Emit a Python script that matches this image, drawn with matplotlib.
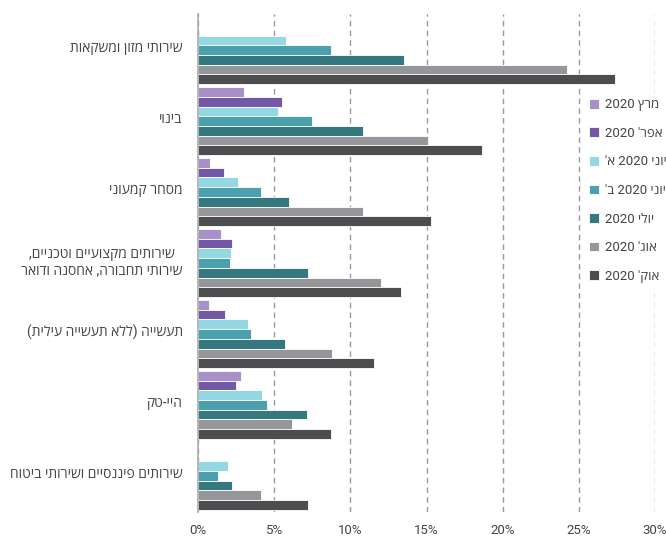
import numpy as np
import matplotlib
matplotlib.use("Agg")
import matplotlib.pyplot as plt
from matplotlib.transforms import ScaledTranslation

plt.rcParams['font.family'] = ['Roboto', 'Open Sans', 'Liberation Sans', 'DejaVu Sans']

# sectors, top to bottom
categories = [
    "שירותי מזון ומשקאות",
    "בינוי",
    "מסחר קמעוני",
    "שירותים מקצועיים וטכניים,\nשירותי תחבורה, אחסנה ודואר",
    "תעשייה (ללא תעשייה עילית)",
    "היי-טק",
    "שירותים פיננסיים ושירותי ביטוח",
]

series_names = ["מרץ 2020", "אפר' 2020", "יוני 2020 א'", "יוני 2020 ב'",
                "יולי 2020", "אוג' 2020", "אוק' 2020"]

mar_2020 = [np.nan, 3.0, 0.8, 1.5, 0.7, 2.8, np.nan]
apr_2020 = [np.nan, 5.5, 1.7, 2.2, 1.8, 2.5, np.nan]
jun_a_2020 = [5.8, 5.25, 2.6, 2.15, 3.25, 4.2, 2.0]
jun_b_2020 = [8.7, 7.5, 4.15, 2.1, 3.45, 4.5, 1.3]
jul_2020 = [13.55, 10.8, 5.95, 7.2, 5.7, 7.15, 2.25]
aug_2020 = [24.25, 15.1, 10.8, 12.0, 8.8, 6.2, 4.15]
oct_2020 = [27.35, 18.65, 15.3, 13.3, 11.55, 8.7, 7.2]

colors = ["#a891c8", "#7358a5", "#94d8e4", "#4aa1ad", "#367880", "#959699", "#4d4d50"]

x_ticks = [0, 5, 10, 15, 20, 25, 30]


def visual(s):
    """Simple RTL -> visual LTR conversion for matplotlib (no bidi support)."""
    out_lines = []
    for line in s.split("\n"):
        r = line[::-1]
        res, run = [], ""
        for ch in r:
            if ch.isdigit() or ("a" <= ch.lower() <= "z"):
                run += ch
            else:
                if run:
                    res.append(run[::-1])
                    run = ""
                res.append({"(": ")", ")": "("}.get(ch, ch))
        if run:
            res.append(run[::-1])
        out_lines.append("".join(res))
    return "\n".join(out_lines)


fig = plt.figure(figsize=(6.66, 5.36), dpi=100)
ax = fig.add_axes([198 / 666, 1 - 512 / 536, (655 - 198) / 666, (512 - 14) / 536])

series = [mar_2020, apr_2020, jun_a_2020, jun_b_2020, jul_2020, aug_2020, oct_2020]
n = len(series)
h = 0.137
y = np.arange(len(categories))
for j, (vals, name, c) in enumerate(zip(series, series_names, colors)):
    ax.barh(y + (j - (n - 1) / 2) * h, vals, height=h, color=c,
            edgecolor="white", linewidth=0.6, label=visual(name), zorder=3)

ax.set_ylim(6.51, -0.51)
ax.set_xlim(0, 30)
ax.set_xticks(x_ticks)
ax.set_xticklabels([f"{t}%" for t in x_ticks])
ax.set_yticks(y)
ax.set_yticklabels([visual(c) for c in categories], multialignment="center")
ax.tick_params(axis="both", length=0, labelsize=9.5, labelcolor="#444444")
ax.tick_params(axis="y", pad=11, labelsize=10)
ax.tick_params(axis="x", pad=9)
shift = ScaledTranslation(0, 2.5 / 72, fig.dpi_scale_trans)
for lbl in ax.get_yticklabels():
    lbl.set_transform(lbl.get_transform() + shift)

for s in ["top", "right", "bottom"]:
    ax.spines[s].set_visible(False)
ax.spines["left"].set_color("#aaaaaa")
ax.spines["left"].set_linewidth(1.2)
ax.spines["left"].set_zorder(4)

ax.grid(axis="x", linestyle=(0, (4, 3)), color="#999999", linewidth=1, zorder=0)
ax.grid(axis="y", visible=False)

leg = ax.legend(loc="upper left", bbox_to_anchor=(584 / 666, 1 - 93 / 536),
                bbox_transform=fig.transFigure, frameon=True, fontsize=9.5,
                handlelength=0.75, handleheight=0.75, handletextpad=0.45,
                labelspacing=1.18, borderpad=0.4, borderaxespad=0)
leg.get_frame().set_edgecolor("none")
leg.get_frame().set_facecolor("white")
leg.get_frame().set_alpha(1)
for t in leg.get_texts():
    t.set_color("#444444")

fig.savefig("out.png", dpi=100)
